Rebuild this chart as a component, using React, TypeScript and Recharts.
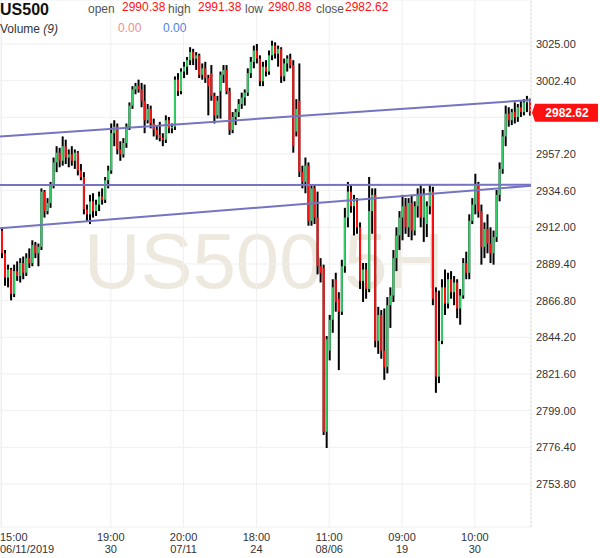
import React from "react";
import { ComposedChart, Bar, XAxis, YAxis, CartesianGrid, ReferenceLine } from "recharts";

// OHLC per 5h bar
const opens = [
  2910, 2896, 2881, 2886, 2871, 2885, 2882, 2890, 2884, 2893, 2890, 2901, 2896, 2900, 2934, 2922, 2927, 2938, 2952, 2958,
  2953, 2962, 2955, 2957, 2953, 2958, 2947, 2943, 2923, 2920, 2928, 2922, 2926, 2931, 2929, 2941, 2947, 2970, 2974, 2960,
  2957, 2964, 2974, 2987, 2997, 2999, 2997, 2990, 2978, 2985, 2976, 2972, 2969, 2967, 2966, 2978, 2973, 2974, 3003, 2996,
  3008, 3011, 3015, 3020, 3016, 3018, 3006, 3010, 3004, 3007, 2993, 2981, 2996, 3006, 3009, 2996, 2972, 2980, 2983, 2988,
  2992, 2995, 3007, 3014, 3021, 3016, 3002, 3011, 3008, 3018, 3024, 3019, 3022, 3005, 3013, 3016, 3012, 2971, 2990, 2946,
  2940, 2950, 2916, 2936, 2918, 2888, 2887, 2786, 2836, 2855, 2880, 2868, 2860, 2888, 2918, 2934, 2925, 2928, 2912, 2879,
  2886, 2874, 2922, 2932, 2842, 2858, 2836, 2826, 2864, 2870, 2893, 2907, 2918, 2925, 2912, 2927, 2910, 2925, 2932, 2918,
  2914, 2925, 2934, 2872, 2820, 2842, 2875, 2865, 2880, 2872, 2878, 2862, 2870, 2890, 2884, 2916, 2926, 2938, 2922, 2900,
  2911, 2902, 2896, 2906, 2932, 2948, 2968, 2982, 2978, 2983, 2980, 2986, 2983, 2989, 2990.38,
];
const highs = [
  2912, 2898, 2889, 2887, 2889, 2891, 2893, 2894, 2896, 2899, 2904, 2903, 2902, 2936, 2935, 2930, 2940, 2955, 2962, 2961,
  2968, 2966, 2960, 2962, 2960, 2959, 2951, 2946, 2926, 2932, 2933, 2929, 2934, 2936, 2943, 2950, 2976, 2978, 2976, 2965,
  2967, 2976, 2989, 2999, 3001, 3003, 3001, 3000, 2988, 2987, 2979, 2975, 2977, 2970, 2981, 2980, 2976, 3005, 3007, 3010,
  3014, 3017, 3023, 3022, 3020, 3019, 3013, 3014, 3006, 3012, 2995, 2993, 3008, 3012, 3012, 2998, 2983, 2985, 2991, 2995,
  2997, 3010, 3017, 3024, 3025, 3018, 3014, 3015, 3021, 3027, 3026, 3024, 3023, 3016, 3018, 3019, 3015, 2991, 3013, 2950,
  2955, 2952, 2938, 2938, 2934, 2893, 2889, 2845, 2858, 2880, 2884, 2872, 2892, 2924, 2940, 2938, 2932, 2930, 2915, 2890,
  2890, 2943, 2936, 2936, 2863, 2861, 2862, 2869, 2875, 2898, 2912, 2922, 2932, 2930, 2930, 2932, 2928, 2936, 2938, 2936,
  2928, 2938, 2937, 2875, 2873, 2880, 2886, 2884, 2885, 2882, 2880, 2874, 2893, 2897, 2920, 2930, 2945, 2940, 2926, 2915,
  2920, 2912, 2910, 2935, 2952, 2972, 2987, 2986, 2985, 2989, 2988, 2990, 2991, 2993, 2991.38,
];
const lows = [
  2893, 2876, 2875, 2867, 2869, 2879, 2878, 2880, 2882, 2887, 2888, 2893, 2888, 2898, 2918, 2920, 2924, 2936, 2946, 2949,
  2950, 2951, 2949, 2950, 2948, 2944, 2941, 2920, 2916, 2914, 2918, 2919, 2922, 2926, 2927, 2936, 2945, 2962, 2957, 2953,
  2955, 2961, 2972, 2985, 2994, 2995, 2986, 2970, 2976, 2973, 2968, 2966, 2965, 2962, 2964, 2970, 2970, 2972, 2993, 2994,
  3004, 3006, 3012, 3012, 3009, 3004, 3003, 3001, 2981, 2990, 2976, 2979, 2979, 3001, 2994, 2969, 2970, 2975, 2980, 2985,
  2987, 2993, 3004, 3010, 3013, 2999, 2999, 3005, 3006, 3015, 3016, 3011, 3001, 3002, 3008, 3010, 2958, 2968, 2943, 2936,
  2933, 2913, 2913, 2914, 2883, 2878, 2784, 2776, 2830, 2847, 2860, 2824, 2858, 2884, 2912, 2921, 2907, 2908, 2874, 2866,
  2868, 2872, 2908, 2838, 2834, 2831, 2818, 2822, 2850, 2866, 2885, 2898, 2904, 2908, 2906, 2904, 2907, 2918, 2912, 2903,
  2906, 2920, 2864, 2810, 2816, 2840, 2858, 2862, 2868, 2864, 2856, 2852, 2868, 2880, 2880, 2914, 2920, 2918, 2889, 2893,
  2896, 2890, 2889, 2903, 2928, 2945, 2962, 2974, 2975, 2976, 2977, 2980, 2981, 2983, 2980.88,
];
const closes = [
  2896, 2881, 2886, 2871, 2885, 2882, 2890, 2884, 2893, 2890, 2901, 2896, 2900, 2934, 2922, 2927, 2938, 2952, 2958, 2953,
  2962, 2955, 2957, 2953, 2958, 2947, 2943, 2923, 2920, 2928, 2922, 2926, 2931, 2929, 2941, 2947, 2970, 2974, 2960, 2957,
  2964, 2974, 2987, 2997, 2999, 2997, 2990, 2978, 2985, 2976, 2972, 2969, 2967, 2966, 2978, 2973, 2974, 3003, 2996, 3008,
  3011, 3015, 3020, 3016, 3018, 3006, 3010, 3004, 2999, 2993, 2981, 2990, 3006, 3009, 2996, 2972, 2980, 2983, 2988, 2992,
  2995, 3007, 3014, 3021, 3016, 3002, 3011, 3008, 3018, 3024, 3019, 3022, 3005, 3013, 3016, 3012, 2962, 2985, 2946, 2940,
  2950, 2916, 2936, 2918, 2888, 2884, 2786, 2843, 2855, 2875, 2866, 2860, 2888, 2918, 2934, 2925, 2928, 2912, 2879, 2886,
  2874, 2922, 2932, 2842, 2858, 2836, 2826, 2864, 2870, 2893, 2907, 2918, 2925, 2912, 2927, 2910, 2925, 2932, 2918, 2932,
  2925, 2934, 2868, 2820, 2842, 2875, 2865, 2880, 2872, 2878, 2862, 2870, 2890, 2884, 2916, 2926, 2938, 2922, 2900, 2911,
  2902, 2896, 2906, 2932, 2948, 2968, 2982, 2978, 2983, 2980, 2986, 2983, 2989, 2990, 2982.62,
];

const tickIdx = [0, 36, 60, 84, 108, 132, 156];
const tickTime = ["15:00", "19:00", "20:00", "18:00", "11:00", "09:00", "10:00"];
const tickDate = ["06/11/2019", "30", "07/11", "24", "08/06", "19", "30"];

const priceTicks = [3025, 3002.4, 2979.8, 2957.2, 2934.6, 2912, 2889.4, 2866.8, 2844.2, 2821.6, 2799, 2776.4, 2753.8];

// trend lines: value at first and last bar
const upperTrend = [2967.9, 2990.5];
const flatTrend = [2938.1, 2938.2];
const lowerTrend = [2911.4, 2937.6];

const N = closes.length;
const data = closes.map((c, i) => ({ i, o: opens[i], h: highs[i], l: lows[i], c, range: [lows[i], highs[i]] }));
const last = closes[N - 1];

const FONT = 'Arial, "Liberation Sans", sans-serif';
const GREEN = "#33cc66";
const RED = "#ff1010";
const TREND = "#7474c2";

const Candle = (props: any) => {
  const { x, y, width, height, payload } = props;
  if (!payload) return null;
  const { o, c, h, l } = payload;
  const top = Math.min(y, y + height);
  const full = Math.abs(height);
  const k = full / (h - l);
  const bodyTop = top + (h - Math.max(o, c)) * k;
  const bodyH = Math.max(1, Math.abs(o - c) * k);
  const cx = x + width / 2;
  return (
    <g>
      <rect x={cx - 1} y={top} width={2} height={Math.max(full, 1)} fill="#000" />
      <rect x={cx - 1} y={bodyTop} width={2} height={bodyH} fill={c >= o ? GREEN : RED} />
    </g>
  );
};

const YTick = (props: any) => {
  const { y, payload } = props;
  if (payload.value === 2979.8) return <g />;
  return (
    <text x={536} y={y + 4} fontSize={11} fill="#333" fontFamily={FONT}>
      {payload.value.toFixed(2)}
    </text>
  );
};

const XTick = (props: any) => {
  const { x, payload } = props;
  const k = tickIdx.indexOf(payload.value);
  if (k < 0) return <g />;
  const first = k === 0;
  return (
    <text x={first ? 0 : x} textAnchor={first ? "start" : "middle"} fontSize={11} fill="#333" fontFamily={FONT}>
      <tspan x={first ? 0 : x} y={541}>{tickTime[k]}</tspan>
      <tspan x={first ? 0 : x} y={553}>{tickDate[k]}</tspan>
    </text>
  );
};

const PriceTag = (props: any) => {
  const vb = props.viewBox;
  if (!vb) return null;
  const x0 = vb.x + vb.width + 1;
  const y = vb.y;
  return (
    <g>
      <polygon
        points={`${x0},${y} ${x0 + 3},${y - 9} ${x0 + 66},${y - 9} ${x0 + 66},${y + 9} ${x0 + 3},${y + 9}`}
        fill={RED}
      />
      <text x={x0 + 35} y={y + 4} textAnchor="middle" fontSize={12} fontWeight="bold" fill="#fff" fontFamily={FONT}>
        {last.toFixed(2)}
      </text>
    </g>
  );
};

export default function App() {
  return (
    <div style={{ position: "absolute", left: 0, top: 0, width: 600, height: 558, background: "#fff", fontFamily: FONT }}>
      <svg width={600} height={558} style={{ position: "absolute", left: 0, top: 0 }}>
        <text x={264} y={288} textAnchor="middle" fontSize={78} fill="#eee9df" fontFamily={FONT}>
          US500 5H
        </text>
      </svg>
      <ComposedChart width={600} height={558} data={data} margin={{ top: 0, right: 0, bottom: 0, left: 0 }}>
        <CartesianGrid stroke="#efefef" />
        <XAxis
          dataKey="i"
          type="number"
          domain={[-0.5, N - 0.5]}
          ticks={tickIdx}
          interval={0}
          axisLine={false}
          tickLine={false}
          height={31}
          tick={<XTick />}
        />
        <YAxis
          orientation="right"
          type="number"
          domain={[2727.3, 3052.1]}
          ticks={priceTicks}
          interval={0}
          width={69}
          axisLine={false}
          tickLine={false}
          tick={<YTick />}
        />
        <ReferenceLine x={N - 0.5} stroke="#dddddd" strokeDasharray="2 2" />
        <ReferenceLine
          segment={[{ x: -0.5, y: upperTrend[0] }, { x: N - 0.5, y: upperTrend[1] }]}
          stroke={TREND}
          strokeWidth={2}
        />
        <ReferenceLine
          segment={[{ x: -0.5, y: flatTrend[0] }, { x: N - 0.5, y: flatTrend[1] }]}
          stroke={TREND}
          strokeWidth={2}
        />
        <ReferenceLine
          segment={[{ x: -0.5, y: lowerTrend[0] }, { x: N - 0.5, y: lowerTrend[1] }]}
          stroke={TREND}
          strokeWidth={2}
        />
        <Bar dataKey="range" barSize={2} shape={Candle} isAnimationActive={false} />
        <ReferenceLine y={last} stroke="none" label={<PriceTag />} />
      </ComposedChart>
      <svg width={600} height={40} style={{ position: "absolute", left: 0, top: 0, pointerEvents: "none" }}>
        <text x={0} y={15} fontSize={16} fontWeight="bold" fill="#111" fontFamily={FONT}>US500</text>
        <text x={88} y={13} fontSize={12} fill="#555" fontFamily={FONT}>open</text>
        <text x={122} y={11} fontSize={12} fill={RED} fontFamily={FONT}>2990.38</text>
        <text x={168} y={13} fontSize={12} fill="#555" fontFamily={FONT}>high</text>
        <text x={198} y={11} fontSize={12} fill={RED} fontFamily={FONT}>2991.38</text>
        <text x={245} y={13} fontSize={12} fill="#555" fontFamily={FONT}>low</text>
        <text x={268} y={11} fontSize={12} fill={RED} fontFamily={FONT}>2980.88</text>
        <text x={316} y={13} fontSize={12} fill="#555" fontFamily={FONT}>close</text>
        <text x={345} y={11} fontSize={12} fill={RED} fontFamily={FONT}>2982.62</text>
        <text x={0} y={33} fontSize={12} fill="#333" fontFamily={FONT}>
          Volume <tspan fontStyle="italic">(9)</tspan>
        </text>
        <text x={118} y={32} fontSize={12} fill="#f08c8c" fontFamily={FONT}>0.00</text>
        <text x={163} y={32} fontSize={12} fill="#4f82e0" fontFamily={FONT}>0.00</text>
      </svg>
    </div>
  );
}
